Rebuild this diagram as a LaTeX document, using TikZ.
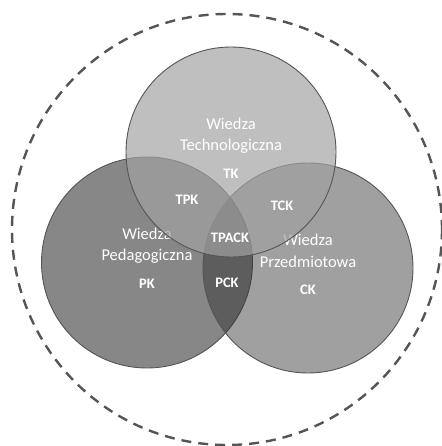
\documentclass[tikz,border=0pt]{standalone}
\usepackage{fontspec}
\setmainfont{Carlito}
\definecolor{cL}{RGB}{135,135,135}
\definecolor{cR}{RGB}{44,44,44}
\definecolor{cT}{RGB}{162,162,162}
\definecolor{cLine}{RGB}{85,85,85}
\definecolor{cDash}{RGB}{85,85,85}
\tikzset{
  circ/.style={draw=cLine, line width=0.9pt},
  main/.style={text=white, font=\fontsize{16.5}{22}\selectfont, align=center, inner sep=0pt},
  lab/.style={text=white, font=\fontsize{14.5}{16}\selectfont\bfseries, inner sep=0pt},
}
\begin{document}
\begin{tikzpicture}[x=1pt,y=-1pt]
\useasboundingbox (0,0) rectangle (441,446);
% outer dashed circle
\draw[cDash, line width=2.4pt, dash pattern=on 10pt off 7pt] (227,229.5) ellipse (215 and 215.5);
% left circle
\path[circ, fill=cL] (147,262.5) circle (105.5);
\node[main] (wl) at (147,234) {Wiedza};
\node[main] (pl) at (147,256) {Pedagogiczna};
\node[lab] (pk) at (147,284) {PK};
% right circle
\path[circ, fill=cR, fill opacity=0.45] (308,268) circle (105);
\node[main] (wr) at (308,240) {Wiedza};
\node[main] (pr) at (308,262) {Przedmiotowa};
\node[lab] (ck) at (308,290) {CK};
% top circle
\path[circ, fill=cT, fill opacity=0.69] (231,152) circle (105);
\node[main] (wt) at (231,124) {Wiedza};
\node[main] (tt) at (231,146) {Technologiczna};
\node[lab] (tk) at (231,174) {TK};
% intersections
\node[lab] (tpk) at (187,200) {TPK};
\node[lab] (tck) at (282,206) {TCK};
\node[lab] (tpack) at (230,238) {TPACK};
\node[lab] (pck) at (227,283) {PCK};
\end{tikzpicture}
\end{document}
